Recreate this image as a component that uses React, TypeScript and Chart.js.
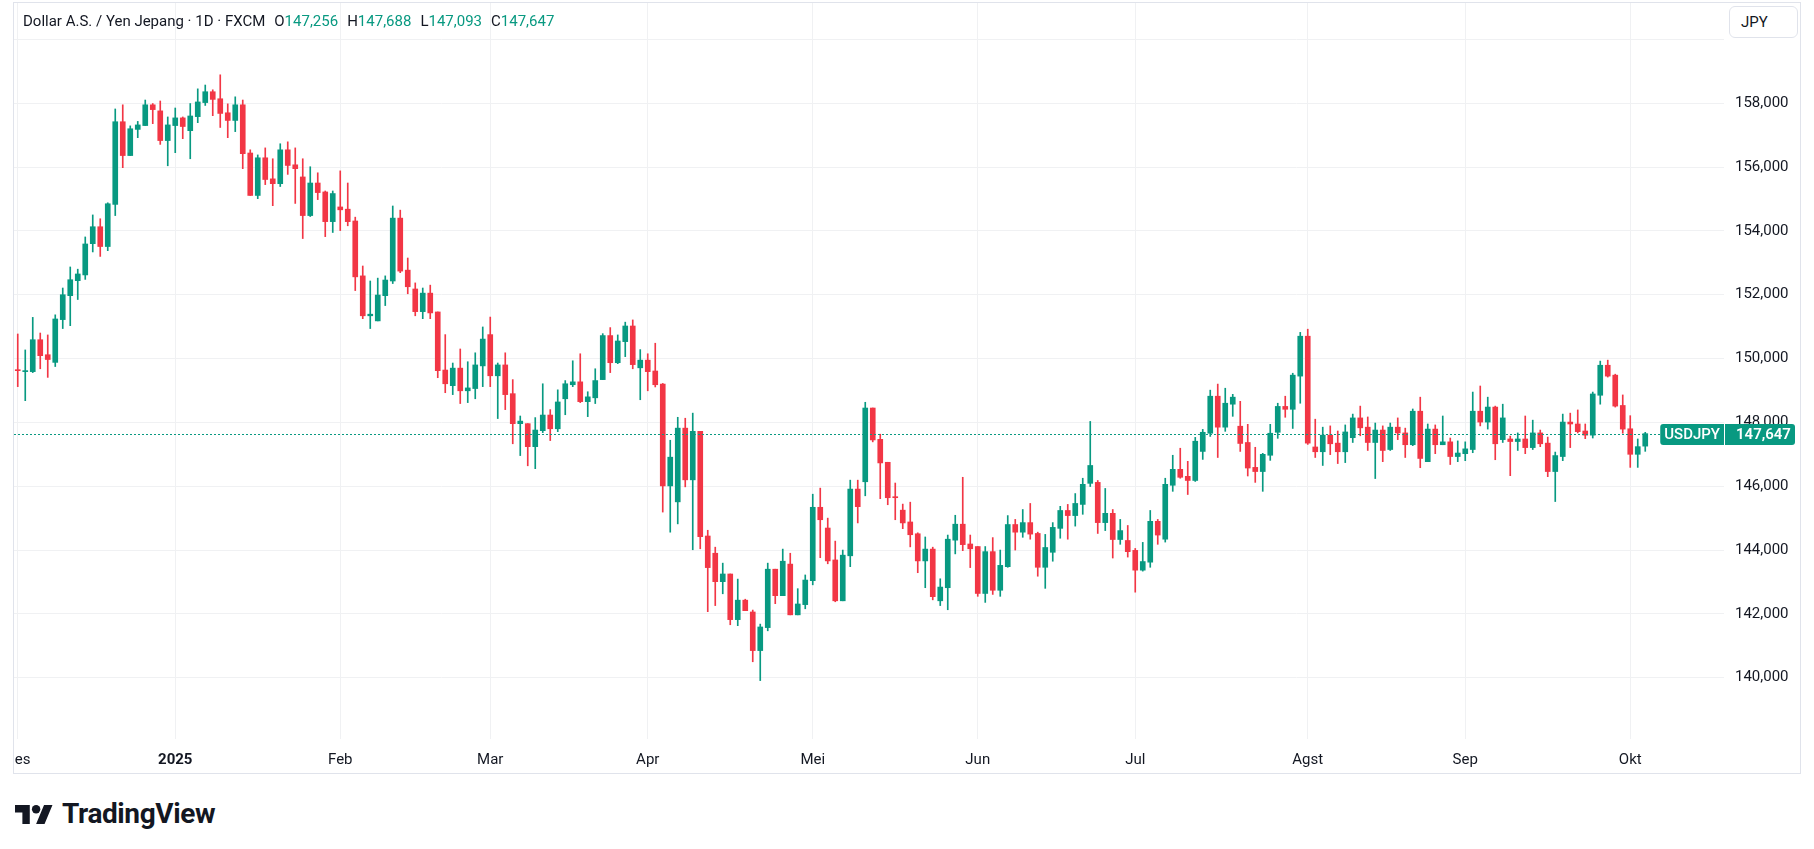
import React, { useEffect, useRef } from "react";
import { Chart, registerables } from "chart.js";

Chart.register(...registerables);

// ---- data (USD/JPY daily, FXCM) ----
const OPEN = [
  149.65, 149.59, 149.59, 150.59, 150.12, 149.88, 151.22, 151.97, 152.44, 152.62,
  153.60, 154.13, 153.51, 154.83, 157.42, 156.36, 157.18, 157.30, 157.95, 157.76,
  156.83, 157.30, 157.54, 157.14, 157.58, 158.02, 158.36, 158.14, 157.70, 157.46,
  157.95, 156.44, 155.11, 156.29, 155.63, 155.48, 156.54, 156.07, 155.69, 154.48,
  155.50, 155.22, 154.29, 154.75, 154.68, 154.31, 152.59, 151.34, 151.18, 151.97,
  152.43, 154.40, 152.77, 152.18, 151.47, 152.05, 151.46, 149.64, 149.15, 149.70,
  148.99, 149.06, 149.77, 150.75, 149.46, 149.80, 148.90, 147.96, 147.96, 147.24,
  147.74, 148.23, 147.80, 148.74, 149.18, 149.27, 148.65, 148.77, 149.34, 150.72,
  149.87, 150.53, 151.02, 149.71, 149.95, 149.61, 149.20, 146.01, 145.51, 147.82,
  146.20, 147.72, 144.44, 143.90, 143.01, 143.25, 141.82, 142.43, 142.06, 140.85,
  141.57, 143.40, 142.57, 143.56, 141.97, 142.29, 143.04, 145.34, 144.69, 143.69,
  142.41, 143.82, 145.91, 146.14, 148.45, 147.47, 146.75, 145.66, 145.25, 144.88,
  144.51, 143.66, 144.03, 142.41, 142.82, 144.31, 144.81, 144.19, 144.11, 142.64,
  143.95, 142.74, 143.48, 144.80, 144.56, 144.86, 144.52, 143.46, 143.93, 144.68,
  145.24, 145.08, 145.43, 146.09, 146.12, 144.86, 145.15, 144.33, 144.30, 143.99,
  143.37, 143.62, 144.90, 144.34, 146.03, 146.53, 146.31, 146.18, 147.09, 147.66,
  148.82, 147.85, 148.57, 147.88, 147.37, 146.59, 146.46, 146.97, 147.69, 148.50,
  148.41, 149.45, 150.70, 147.23, 147.08, 147.60, 147.35, 147.08, 147.52, 148.14,
  147.85, 147.37, 147.76, 147.15, 147.85, 147.67, 147.30, 148.35, 146.77, 147.79,
  147.30, 147.39, 146.93, 147.02, 147.15, 148.35, 148.01, 148.48, 147.46, 147.48,
  147.40, 147.48, 147.21, 147.67, 147.35, 146.46, 146.93, 148.01, 147.95, 147.73,
  147.60, 148.85, 149.79, 149.48, 148.53, 147.80, 147.00, 147.256,
];
const HIGH = [
  150.77, 150.27, 151.29, 150.80, 150.74, 151.37, 152.21, 152.87, 152.80, 153.81,
  154.50, 154.38, 154.88, 157.82, 157.95, 157.29, 157.43, 158.10, 157.99, 158.07,
  157.57, 157.85, 157.57, 157.99, 158.45, 158.57, 158.42, 158.89, 157.98, 158.20,
  158.10, 156.54, 156.38, 156.60, 156.26, 156.73, 156.79, 156.60, 156.26, 156.01,
  155.82, 155.25, 155.25, 155.88, 155.50, 154.43, 152.90, 152.43, 152.52, 152.59,
  154.78, 154.65, 153.15, 152.37, 152.21, 152.30, 151.46, 150.75, 149.86, 150.30,
  149.90, 150.18, 150.99, 151.30, 149.86, 150.18, 149.34, 148.20, 147.96, 148.15,
  149.21, 148.40, 149.02, 149.31, 149.93, 150.15, 148.96, 149.68, 150.78, 150.97,
  150.74, 151.14, 151.21, 150.28, 150.15, 150.48, 149.22, 147.44, 148.16, 148.13,
  148.29, 147.72, 144.62, 144.09, 143.59, 143.25, 143.09, 142.46, 142.12, 141.68,
  143.59, 143.40, 144.03, 143.90, 142.79, 143.22, 145.75, 145.94, 145.00, 144.28,
  144.00, 146.19, 146.19, 148.63, 148.45, 147.63, 146.75, 146.10, 145.44, 145.50,
  144.54, 144.41, 144.09, 143.10, 144.47, 145.09, 146.28, 144.47, 144.11, 144.11,
  144.39, 144.00, 145.08, 144.96, 145.27, 145.46, 144.56, 144.49, 144.86, 145.37,
  145.43, 145.77, 146.25, 148.03, 146.18, 145.93, 145.27, 144.96, 144.77, 144.05,
  144.24, 145.24, 144.96, 146.25, 146.97, 147.19, 146.78, 147.53, 147.78, 149.01,
  149.20, 149.07, 148.88, 148.66, 147.94, 147.22, 147.03, 147.94, 148.60, 148.82,
  149.54, 150.82, 150.92, 148.10, 147.85, 147.89, 147.73, 147.92, 148.26, 148.51,
  148.17, 147.98, 147.89, 147.98, 148.14, 147.82, 148.42, 148.79, 147.95, 147.92,
  148.20, 147.51, 147.42, 147.39, 148.95, 149.14, 148.79, 148.51, 148.57, 147.57,
  147.67, 148.20, 148.07, 147.76, 147.54, 147.07, 148.26, 148.29, 148.39, 147.95,
  148.95, 149.92, 149.95, 149.51, 148.86, 148.21, 147.48, 147.688,
];
const LOW = [
  149.12, 148.68, 149.56, 149.68, 149.41, 149.75, 150.94, 151.03, 151.85, 152.48,
  153.34, 153.20, 153.38, 154.48, 155.98, 156.36, 156.92, 157.30, 157.36, 156.71,
  156.04, 156.45, 156.89, 156.26, 157.39, 157.93, 157.61, 157.24, 156.92, 157.11,
  155.95, 155.11, 155.01, 155.45, 154.79, 155.39, 155.77, 154.86, 153.76, 154.45,
  154.98, 153.82, 153.95, 154.01, 154.16, 152.13, 151.25, 150.94, 151.18, 151.66,
  152.35, 152.69, 152.03, 151.34, 151.25, 151.25, 149.40, 148.93, 148.87, 148.59,
  148.62, 148.74, 149.12, 149.12, 148.12, 148.40, 147.33, 146.96, 146.64, 146.55,
  147.68, 147.43, 147.71, 148.24, 149.12, 148.62, 148.18, 148.59, 149.34, 149.56,
  149.84, 150.06, 149.68, 148.71, 148.99, 149.11, 145.19, 144.56, 144.82, 145.98,
  144.01, 144.04, 142.07, 142.26, 142.63, 141.66, 141.63, 142.10, 140.50, 139.91,
  141.47, 142.32, 142.57, 141.97, 141.97, 142.16, 142.91, 143.76, 143.57, 142.38,
  142.41, 143.48, 144.85, 145.70, 147.39, 145.61, 145.42, 144.95, 144.67, 144.10,
  143.29, 142.82, 142.44, 142.26, 142.13, 143.88, 143.98, 143.45, 142.55, 142.36,
  142.61, 142.55, 143.46, 144.00, 144.40, 144.34, 143.18, 142.80, 143.65, 144.37,
  144.34, 144.75, 145.12, 145.99, 144.52, 144.61, 143.75, 144.18, 143.78, 142.68,
  143.34, 143.46, 144.18, 144.25, 145.84, 146.25, 145.74, 146.15, 146.84, 147.56,
  146.90, 147.72, 148.19, 147.09, 146.32, 146.12, 145.84, 146.81, 147.50, 148.16,
  147.81, 148.60, 147.31, 146.90, 146.65, 146.99, 146.71, 146.74, 147.37, 147.58,
  147.12, 146.24, 146.77, 147.12, 147.46, 146.90, 147.27, 146.58, 146.77, 147.02,
  147.30, 146.68, 146.77, 146.80, 147.05, 147.89, 147.79, 146.83, 147.37, 146.33,
  147.12, 147.02, 147.15, 147.24, 146.30, 145.52, 146.80, 147.21, 147.67, 147.49,
  147.51, 148.57, 149.42, 148.48, 147.66, 146.59, 146.59, 147.093,
];
const CLOSE = [
  149.62, 149.61, 150.59, 150.09, 149.97, 151.24, 152.00, 152.47, 152.65, 153.59,
  154.13, 153.51, 154.85, 157.42, 156.36, 157.20, 157.32, 157.95, 157.80, 156.83,
  157.32, 157.54, 157.27, 157.60, 158.04, 158.36, 158.12, 157.68, 157.46, 157.95,
  156.42, 155.11, 156.29, 155.61, 155.48, 156.54, 156.05, 155.95, 154.48, 155.50,
  155.20, 154.29, 155.17, 154.66, 154.29, 152.56, 151.34, 151.39, 151.99, 152.46,
  154.40, 152.74, 152.25, 151.47, 152.05, 151.43, 149.62, 149.21, 149.70, 148.99,
  149.08, 149.80, 150.61, 149.46, 149.80, 148.87, 147.96, 148.04, 147.24, 147.76,
  148.23, 147.80, 148.64, 149.21, 149.27, 148.65, 148.80, 149.31, 150.72, 149.87,
  150.55, 151.02, 149.81, 149.95, 149.59, 149.18, 146.01, 146.91, 147.82, 146.20,
  147.72, 144.42, 143.45, 143.01, 143.25, 141.82, 142.43, 142.10, 140.85, 141.59,
  143.40, 142.57, 143.65, 141.97, 142.31, 143.06, 145.34, 144.95, 143.66, 142.41,
  143.84, 145.91, 145.36, 148.45, 147.45, 146.73, 145.64, 145.64, 144.85, 144.48,
  143.66, 144.03, 142.54, 142.84, 144.34, 144.81, 144.17, 144.04, 142.64, 143.95,
  142.74, 143.52, 144.80, 144.56, 144.86, 144.50, 143.46, 144.08, 144.71, 145.24,
  145.08, 145.46, 146.06, 146.65, 144.86, 145.15, 144.33, 144.61, 143.95, 143.37,
  143.64, 144.90, 144.47, 146.06, 146.53, 146.28, 146.18, 147.41, 147.69, 148.82,
  147.85, 148.60, 148.79, 147.34, 146.57, 146.46, 147.00, 147.66, 148.50, 148.41,
  149.48, 150.70, 147.35, 147.08, 147.60, 147.33, 147.08, 147.70, 148.14, 147.83,
  147.37, 147.76, 147.12, 147.85, 147.67, 147.30, 148.35, 146.87, 147.79, 147.30,
  147.39, 146.93, 147.04, 147.17, 148.35, 148.01, 148.48, 147.33, 148.14, 147.40,
  147.48, 147.21, 147.67, 147.33, 146.46, 146.96, 148.01, 147.95, 147.71, 147.60,
  148.89, 149.79, 149.45, 148.51, 147.79, 147.00, 147.24, 147.647,
];

// calendar of the category axis
const FIRST_DAY = "2024-12-02";
const HOLIDAYS = ["2024-12-25", "2025-01-01"];
const FUTURE_SLOTS = 10;
const MONTH_NAMES = ["Jan", "Feb", "Mar", "Apr", "Mei", "Jun", "Jul", "Agst", "Sep", "Okt", "Nov", "Des"];
const Y_TICKS = [140, 142, 144, 146, 148, 150, 152, 154, 156, 158, 160];
const Y_HIDDEN_LABELS = [160];

const TITLE = "Dollar A.S. / Yen Jepang · 1D · FXCM";
const SYMBOL = "USDJPY";
const CURRENCY = "JPY";

const UP = "#089981";
const DOWN = "#F23645";
const TEXT = "#131722";
const GRID = "#f0f1f3";
const FONT = "Roboto, 'Noto Sans', sans-serif";

const fmt = (v: number) => v.toFixed(3).replace(".", ",");

function tradingDays(count: number): string[] {
  const out: string[] = [];
  const d = new Date(FIRST_DAY + "T00:00:00Z");
  while (out.length < count) {
    const dow = d.getUTCDay();
    const iso = d.toISOString().slice(0, 10);
    if (dow !== 0 && dow !== 6 && !HOLIDAYS.includes(iso)) out.push(iso);
    d.setUTCDate(d.getUTCDate() + 1);
  }
  return out;
}

export default function App() {
  const ref = useRef<HTMLCanvasElement | null>(null);

  useEffect(() => {
    document.body.style.margin = "0";
    document.body.style.overflow = "hidden";
    const n = CLOSE.length;
    const dates = tradingDays(n + FUTURE_SLOTS);
    const monthLabel = new Map<number, string>();
    for (let i = 0; i < n; i++) {
      if (i === 0 || dates[i].slice(0, 7) !== dates[i - 1].slice(0, 7)) {
        const m = parseInt(dates[i].slice(5, 7), 10) - 1;
        monthLabel.set(i, m === 0 ? dates[i].slice(0, 4) : MONTH_NAMES[m]);
      }
    }
    const colors = OPEN.map((o, i) => (CLOSE[i] >= o ? UP : DOWN));
    const last = CLOSE[n - 1];

    const priceLine = {
      id: "priceLine",
      afterDatasetsDraw(chart: any) {
        const { ctx, chartArea, scales } = chart;
        const y = scales.y;
        const py = Math.round(y.getPixelForValue(last));
        ctx.save();
        ctx.font = `500 15px ${FONT}`;
        const symW = ctx.measureText(SYMBOL).width + 8;
        const symLeft = chartArea.right - symW;
        // dotted price line
        ctx.strokeStyle = UP;
        ctx.lineWidth = 1;
        ctx.setLineDash([2, 2]);
        ctx.beginPath();
        ctx.moveTo(chartArea.left, py + 0.5);
        ctx.lineTo(symLeft, py + 0.5);
        ctx.stroke();
        ctx.setLineDash([]);
        const h = 21;
        const top = py - h / 2 + 0.5;
        // symbol label
        ctx.fillStyle = UP;
        ctx.beginPath();
        ctx.roundRect(symLeft, top, symW, h, [3, 0, 0, 3]);
        ctx.fill();
        // price label
        const pLeft = chartArea.right + 1;
        const pW = 70;
        ctx.beginPath();
        ctx.roundRect(pLeft, top, pW, h, [0, 3, 3, 0]);
        ctx.fill();
        ctx.fillStyle = "#ffffff";
        ctx.textBaseline = "middle";
        ctx.textAlign = "center";
        ctx.fillText(SYMBOL, symLeft + symW / 2, py + 1.5);
        ctx.font = `600 15px ${FONT}`;
        ctx.textAlign = "left";
        ctx.fillText(fmt(last), pLeft + 11, py + 1.5);
        ctx.restore();
      },
    };

    const chart = new Chart(ref.current as HTMLCanvasElement, {
      type: "bar",
      data: {
        labels: dates,
        datasets: [
          {
            label: "body",
            data: OPEN.map((o, i) => [o, CLOSE[i]]) as any,
            backgroundColor: colors,
            barThickness: 5,
            grouped: false,
            minBarLength: 1,
            order: 0,
          },
          {
            label: "wick",
            data: LOW.map((l, i) => [l, HIGH[i]]) as any,
            backgroundColor: colors,
            barThickness: 1,
            grouped: false,
            order: 1,
          },
        ],
      },
      options: {
        responsive: false,
        animation: false,
        layout: { padding: 0 },
        plugins: { legend: { display: false }, tooltip: { enabled: false } },
        scales: {
          x: {
            type: "category",
            offset: true,
            grid: { offset: false, color: GRID, drawTicks: false, lineWidth: 1 },
            border: { display: false },
            ticks: {
              autoSkip: false,
              maxRotation: 0,
              padding: 12,
              color: TEXT,
              font: (c: any) => ({
                family: FONT,
                size: 15,
                weight: c.tick && c.tick.value === 21 ? "bold" : "normal",
              }),
              callback: (v: any) => monthLabel.get(Number(v)) ?? "",
            },
            afterBuildTicks: (s: any) => {
              s.ticks = s.ticks.filter((t: any) => monthLabel.has(t.value));
            },
            afterFit: (s: any) => {
              s.height = 34;
              s.paddingLeft = 0;
              s.paddingRight = 0;
            },
          },
          y: {
            position: "right",
            min: 138.08,
            max: 161.14,
            grid: { color: GRID, drawTicks: false },
            border: { display: false },
            ticks: {
              padding: 11,
              color: TEXT,
              font: { family: FONT, size: 15 },
              callback: (v: any) => (Y_HIDDEN_LABELS.includes(Number(v)) ? "" : fmt(Number(v))),
            },
            afterBuildTicks: (s: any) => {
              s.ticks = Y_TICKS.map((v) => ({ value: v }));
            },
            afterFit: (s: any) => {
              s.width = 76;
              s.paddingTop = 0;
              s.paddingBottom = 0;
            },
          },
        },
      },
      plugins: [priceLine],
    });
    return () => chart.destroy();
  }, []);

  const O = OPEN[OPEN.length - 1];
  const H = HIGH[HIGH.length - 1];
  const L = LOW[LOW.length - 1];
  const C = CLOSE[CLOSE.length - 1];
  const valColor = C >= O ? UP : DOWN;
  const item = (k: string, v: number) => (
    <span style={{ marginLeft: 9 }}>
      {k}
      <span style={{ color: valColor }}>{fmt(v)}</span>
    </span>
  );

  return (
    <div style={{ position: "relative", width: 1814, height: 849, background: "#ffffff", fontFamily: FONT, color: TEXT }}>
      <div
        style={{
          position: "absolute",
          left: 13,
          top: 2,
          width: 1788,
          height: 772,
          border: "1px solid #e0e3eb",
          boxSizing: "border-box",
          overflow: "hidden",
        }}
      >
        <canvas ref={ref} width={1786} height={770} style={{ display: "block" }} />
        <div style={{ position: "absolute", left: 9, top: 7, fontSize: 15, whiteSpace: "nowrap", lineHeight: "22px" }}>
          {TITLE}
          {item("O", O)}
          {item("H", H)}
          {item("L", L)}
          {item("C", C)}
        </div>
        <div
          style={{
            position: "absolute",
            left: 1715,
            top: 3,
            width: 69,
            height: 32,
            boxSizing: "border-box",
            border: "1px solid #e0e3eb",
            borderRadius: 6,
            background: "#ffffff",
            fontSize: 15,
            lineHeight: "30px",
            paddingLeft: 11,
          }}
        >
          {CURRENCY}
        </div>
      </div>
      <div style={{ position: "absolute", left: 15, top: 800, display: "flex", alignItems: "center" }}>
        <svg width={38} height={19} viewBox="0 4 36 18" style={{ display: "block" }}>
          <path d="M14 22H7V11H0V4h14v18zM28 22h-8l7.5-18h8L28 22z" fill={TEXT} />
          <circle cx={20} cy={8} r={4} fill={TEXT} />
        </svg>
        <span style={{ marginLeft: 9, fontSize: 28, fontWeight: 700, letterSpacing: -0.4, lineHeight: "28px" }}>TradingView</span>
      </div>
    </div>
  );
}
